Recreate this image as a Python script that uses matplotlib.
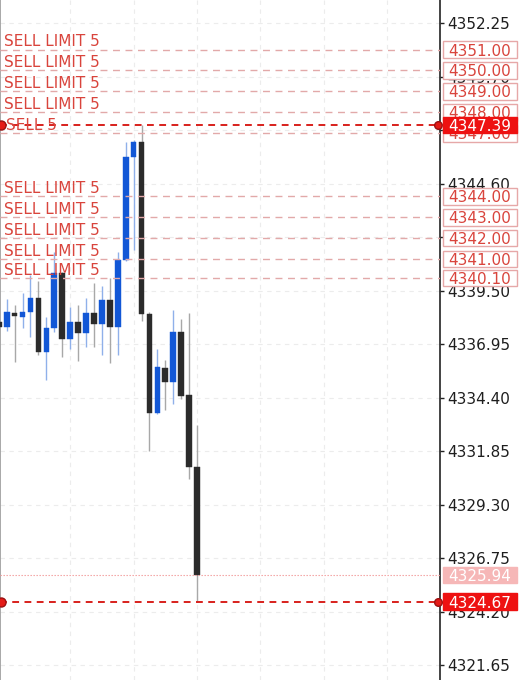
import matplotlib
matplotlib.use("Agg")
import matplotlib.pyplot as plt
from matplotlib.patches import Rectangle
from matplotlib.transforms import blended_transform_factory
import numpy as np

# ---------------- data ----------------
opens  = [4338.02, 4337.78, 4338.44, 4338.26, 4338.47, 4339.15, 4336.59, 4337.72, 4340.33,
          4337.20, 4338.02, 4337.50, 4338.42, 4337.90, 4339.05, 4337.75, 4340.95, 4345.86,
          4346.60, 4338.37, 4333.65, 4335.83, 4335.16, 4337.52, 4334.52, 4331.10]
highs  = [4338.15, 4339.10, 4338.82, 4339.37, 4340.25, 4339.96, 4338.26, 4341.36, 4340.41,
          4338.74, 4338.82, 4339.15, 4339.85, 4339.72, 4340.12, 4341.36, 4346.61, 4346.68,
          4347.39, 4338.47, 4336.72, 4336.18, 4338.58, 4338.13, 4338.44, 4333.09]
lows   = [4337.63, 4337.59, 4336.11, 4337.73, 4337.30, 4336.43, 4335.24, 4337.55, 4336.35,
          4336.72, 4336.17, 4336.83, 4336.83, 4336.43, 4336.05, 4336.43, 4340.91, 4341.44,
          4338.07, 4331.87, 4333.64, 4333.81, 4334.10, 4334.33, 4330.51, 4324.67]
closes = [4337.78, 4338.47, 4338.29, 4338.47, 4339.15, 4336.59, 4337.71, 4340.33, 4337.20,
          4338.02, 4337.50, 4338.42, 4337.90, 4339.05, 4337.75, 4340.95, 4345.89, 4346.60,
          4338.37, 4333.65, 4335.87, 4335.16, 4337.51, 4334.50, 4331.11, 4325.94]
first_index = -1

sell_limit_prices = [4351.00, 4350.00, 4349.00, 4348.00, 4347.00,
                     4344.00, 4343.00, 4342.00, 4341.00, 4340.10]
sell_limit_labels = ["SELL LIMIT 5", "SELL LIMIT 5", "SELL LIMIT 5", "SELL LIMIT 5", "",
                     "SELL LIMIT 5", "SELL LIMIT 5", "SELL LIMIT 5", "SELL LIMIT 5", "SELL LIMIT 5"]
sell_price = 4347.39
sell_label = "SELL 5"
bid_price = 4325.94
low_price = 4324.67

tick_values = [4321.65, 4324.20, 4326.75, 4329.30, 4331.85, 4334.40, 4336.95,
               4339.50, 4342.05, 4344.60, 4347.15, 4349.70, 4352.25]

# ---------------- styles ----------------
BLUE = "#1257d6"
BLUE_WICK = "#8fb0ea"
BLACK = "#2b2b2b"
GREY_WICK = "#a8a8a8"
RED_TXT = "#d9443c"
PINK_LINE = "#e2a9a9"
RED = "#ee1111"

W, H = 519, 680
fig = plt.figure(figsize=(W / 100, H / 100), dpi=100)
ax = fig.add_axes([0, 0, 440 / W, 1])

px_per_unit = 20.97
ymax = 4352.25 + 23.3 / px_per_unit
ymin = 4321.65 - (680 - 665) / px_per_unit
ax.set_ylim(ymin, ymax)
step = 7.93
x0 = 6.7
ax.set_xlim(-x0 / step, (440 - x0) / step)

# grid
for t in tick_values:
    ax.axhline(t, color="#ececec", lw=0.8, dashes=(4, 4), zorder=0)
for gx in range(8, 56, 8):
    ax.axvline(gx, color="#ececec", lw=0.8, dashes=(4, 4), zorder=0)

# candles
n = len(opens)
xs = np.arange(first_index, first_index + n)
bw = 5.7 / step
for x, o, h, l, c in zip(xs, opens, highs, lows, closes):
    up = c >= o
    body_c = BLUE if up else BLACK
    wick_c = BLUE_WICK if up else GREY_WICK
    ax.vlines(x, l, h, color=wick_c, lw=1.0, zorder=2)
    lo, hi = min(o, c), max(o, c)
    ax.add_patch(Rectangle((x - bw / 2, lo), bw, max(hi - lo, 0.05),
                           facecolor=body_c, edgecolor=body_c, lw=0.3, zorder=3))

# order lines
for p, lab in zip(sell_limit_prices, sell_limit_labels):
    ax.axhline(p, color=PINK_LINE, lw=1.0, dashes=(5, 4), zorder=4)
    if lab:
        ax.annotate(lab, xy=(0, p), xycoords=("axes fraction", "data"),
                    xytext=(3, 2.3), textcoords="offset points",
                    ha="left", va="baseline", fontsize=11, color=RED_TXT, zorder=6)

ax.axhline(sell_price, color="#d8201c", lw=1.4, dashes=(3.5, 2.8), zorder=5)
ax.annotate(sell_label, xy=(0, sell_price), xycoords=("axes fraction", "data"),
            xytext=(4.5, 0), textcoords="offset points",
            ha="left", va="center", fontsize=11, color=RED_TXT, zorder=6)
ax.axhline(bid_price, color="#f29a9a", lw=0.8, dashes=(1.2, 1.5), zorder=4)
ax.axhline(low_price, color="#d8201c", lw=1.4, dashes=(3.5, 2.8), zorder=5)

for p in (sell_price, low_price):
    ax.plot([-x0 / step + 0.12], [p], marker="o", ms=6.5, mfc="#e41b17",
            mec="#9b1010", mew=1.0, clip_on=False, zorder=7)
    ax.plot([(437.5 - x0) / step], [p], marker="o", ms=5.5, mfc="#e41b17",
            mec="#9b1010", mew=1.0, clip_on=False, zorder=7)

# axes / ticks
for s in ("top", "bottom"):
    ax.spines[s].set_visible(False)
ax.spines["left"].set_color("#9a9a9a")
ax.spines["left"].set_linewidth(1.2)
ax.spines["right"].set_color("#222222")
ax.spines["right"].set_linewidth(1.2)
ax.set_xticks([])
ax.yaxis.tick_right()
ax.set_yticks(tick_values)
ax.set_yticklabels([f"{t:.2f}" for t in tick_values])
ax.tick_params(axis="y", direction="out", length=3, width=1, color="#222222",
               pad=2.5, labelsize=11, labelcolor="#1e1e1e")

# price boxes
tr = blended_transform_factory(fig.transFigure, ax.transData)
bx0, bx1 = 443 / W, 517 / W
bh = 16.5 / px_per_unit
txt_x = 479.5 / W


def price_box(p, face, edge, tcolor, z):
    ax.add_patch(Rectangle((bx0, p - bh / 2), bx1 - bx0, bh, transform=tr,
                           facecolor=face, edgecolor=edge, lw=1.0,
                           clip_on=False, zorder=z))
    ax.text(txt_x, p, f"{p:.2f}", transform=tr, ha="center", va="center_baseline",
            fontsize=11, color=tcolor, clip_on=False, zorder=z + 0.1)


for i, p in enumerate(sell_limit_prices):
    price_box(p, "white", "#e6a8a8", RED_TXT, 10 + i * 0.2)
price_box(bid_price, "#f6b7b7", "#f6b7b7", "white", 13)
price_box(sell_price, RED, RED, "white", 14)
price_box(low_price, RED, RED, "white", 14)

fig.savefig("out.png", dpi=100)
